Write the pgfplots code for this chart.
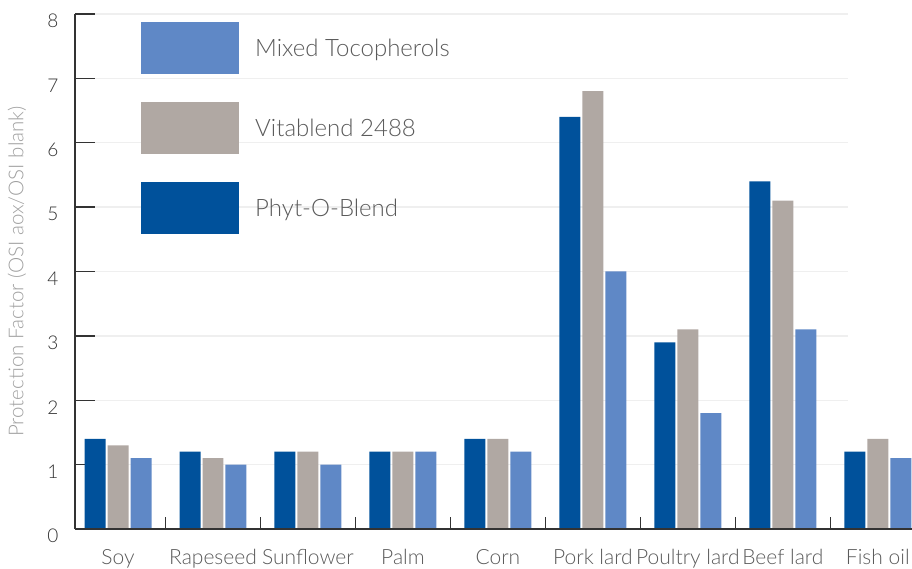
\documentclass[border=0pt]{standalone}
\usepackage{fontspec}
\setmainfont{Lato Light}
\usepackage{pgfplots}
\usepackage{pgfplotstable}
\pgfplotsset{compat=1.18}
\definecolor{phyt}{HTML}{00519B}
\definecolor{vita}{HTML}{B0A8A3}
\definecolor{mixed}{HTML}{5F88C6}
\definecolor{axisgray}{HTML}{333333}
\definecolor{labgray}{HTML}{5A5A5A}
\definecolor{ylabgray}{HTML}{A0A0A0}
\definecolor{gridgray}{HTML}{EFEFEF}
\pgfplotstableread{
x phyt vita mixed
0 1.4 1.3 1.1
1 1.2 1.1 1.0
2 1.2 1.2 1.0
3 1.2 1.2 1.2
4 1.4 1.4 1.2
5 6.4 6.8 4.0
6 2.9 3.1 1.8
7 5.4 5.1 3.1
8 1.2 1.4 1.1
}\data
\pgfplotsset{common/.style={
  scale only axis, width=837pt, height=515pt,
  xmin=-0.453, xmax=8.36, ymin=0, ymax=8,
  axis line style={axisgray, line width=1.3pt},
  tick align=inside,
  tick style={draw=axisgray, line width=1.3pt},
}}
\begin{document}
\begin{tikzpicture}
\begin{axis}[
  common,
  axis x line*=bottom, axis y line*=left,
  major tick length=0pt,
  xtick=\empty,
  ytick={0,...,8},
  unbounded coords=jump,
  clip=false,
  /pgf/number format/assume math mode=true,
  yticklabel style={font=\fontsize{19}{22}\selectfont, text=axisgray, yshift=-7pt, xshift=-13pt},
  ylabel={Protection Factor (OSI aox/OSI blank)},
  ylabel style={font=\fontsize{20.5}{24}\selectfont, text=ylabgray, at={(axis description cs:-0.0693,0.5)}, anchor=center},
  legend style={at={(0.0789,0.9845)}, anchor=north west, draw=none, fill=none,
    inner sep=0pt, row sep=28pt, font=\fontsize{24}{28}\selectfont, text=labgray,
    /tikz/every odd column/.append style={column sep=14pt}},
  legend cell align=left,
  reverse legend,
  legend image code/.code={\fill[#1] (0pt,-26pt) rectangle (98pt,26pt);},
]
% light horizontal grid lines, ending before the last category
\addplot[gridgray, line width=1.3pt, forget plot] coordinates {
(-0.453,1) (7.684,1) (nan,nan)
(-0.453,2) (7.684,2) (nan,nan)
(-0.453,3) (7.684,3) (nan,nan)
(-0.453,4) (7.684,4) (nan,nan)
(-0.453,5) (7.684,5) (nan,nan)
(-0.453,6) (7.684,6) (nan,nan)
(-0.453,7) (7.684,7) (nan,nan)
(-0.453,8) (7.684,8)
};
% y tick marks (inside, 20pt long)
\addplot[axisgray, line width=1.3pt, forget plot] coordinates {
(-0.453,1) (-0.2425,1) (nan,nan)
(-0.453,2) (-0.2425,2) (nan,nan)
(-0.453,3) (-0.2425,3) (nan,nan)
(-0.453,4) (-0.2425,4) (nan,nan)
(-0.453,5) (-0.2425,5) (nan,nan)
(-0.453,6) (-0.2425,6) (nan,nan)
(-0.453,7) (-0.2425,7) (nan,nan)
(-0.453,8) (-0.2425,8)
};
\addplot[ybar, fill=phyt, draw=none, bar width=0.221, bar shift=-0.242] table[x=x,y=phyt]{\data};
\addplot[ybar, fill=vita, draw=none, bar width=0.221, bar shift=0] table[x=x,y=vita]{\data};
\addplot[ybar, fill=mixed, draw=none, bar width=0.221, bar shift=0.242] table[x=x,y=mixed]{\data};
\legend{Phyt-O-Blend, Vitablend 2488, Mixed Tocopherols}
\end{axis}
\begin{axis}[
  common,
  axis x line*=bottom, axis y line=none,
  major tick length=0pt,
  minor tick length=12pt,
  xtick={0,...,8},
  xticklabels={Soy,Rapeseed,Sunflower,Palm,Corn,Pork lard,Poultry lard,Beef lard,Fish oil},
  minor xtick={0.5,1.5,...,7.5},
  ytick=\empty,
  xticklabel style={font=\fontsize{21}{25}\selectfont, text=labgray, yshift=-17pt},
]
\end{axis}
\pgfresetboundingbox
\path[use as bounding box] (current axis.south west) ++(-75pt,-40pt) rectangle ++(912pt,569pt);
\end{tikzpicture}
\end{document}
